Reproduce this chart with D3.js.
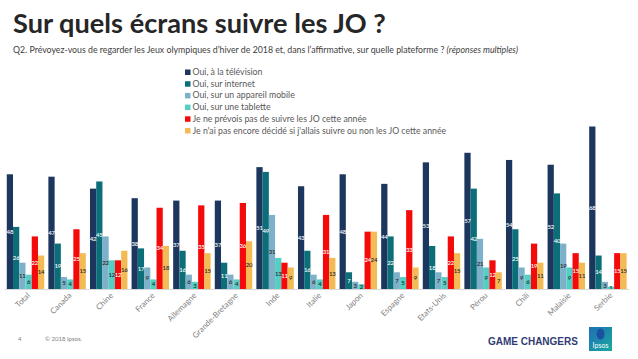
<!DOCTYPE html>
<html><head><meta charset="utf-8">
<script src="https://cdn.jsdelivr.net/npm/d3@7"></script>
<style>body{margin:0;background:#fff} svg{display:block}</style>
</head><body><svg id="c" width="638" height="359"></svg>
<script>
const categories = ["Total","Canada","Chine","France","Allemagne","Grande-Bretagne","Inde","Italie","Japon","Espagne","Etats-Unis","Pérou","Chili","Malaisie","Serbie"];
const seriesNames = ["Oui, à la télévision","Oui, sur internet","Oui, sur un appareil mobile","Oui, sur une tablette","Je ne prévois pas de suivre les JO cette année","Je n'ai pas encore décidé si j'allais suivre ou non les JO cette année"];
const tv        = [48,47,42,38,37,37,51,43,48,44,53,57,54,52,68];
const internet  = [26,19,45,17,16,11,49,16,7,22,18,42,25,40,14];
const mobile    = [11,5,22,9,6,6,31,6,3,7,7,21,9,19,3];
const tablet    = [6,4,12,4,3,4,13,4,2,5,5,9,6,9,1];
const notFollow = [22,25,12,34,35,36,11,31,24,33,22,12,19,15,15];
const undecided = [14,15,16,18,15,20,9,13,24,9,15,7,11,11,15];
const seriesValues = [tv, internet, mobile, tablet, notFollow, undecided];
const colors = ["#1d365e","#0b6e78","#7db1c9","#53cfc3","#f40a0a","#f4bb55"];
const labelColors = ["#fff","#fff","#262626","#262626","#fff","#262626"];

const svg = d3.select("#c");
const font = "Lato, 'Open Sans', sans-serif";

function fit(sel, w){ const l = sel.node().getComputedTextLength(); const fs = parseFloat(sel.attr("font-size")); sel.attr("font-size", fs*w/l); return fs*w/l; }

// Title
const title = svg.append("text").attr("x",13).attr("y",33).attr("font-family",font).attr("font-weight",700)
  .attr("font-size",26).attr("fill","#262626").text("Sur quels écrans suivre les JO ?");
fit(title, 373);

const sub = svg.append("text").attr("x",13).attr("y",53).attr("font-family",font).attr("font-size",7.5).attr("fill","#404040");
sub.append("tspan").text("Q2. Prévoyez-vous de regarder les Jeux olympiques d’hiver de 2018 et, dans l’affirmative, sur quelle plateforme ? ");
sub.append("tspan").attr("font-style","italic").text("(réponses multiples)");
fit(sub, 506);

// Legend
const leg = svg.append("g").attr("transform","translate(185,75)");
const legTexts = [];
seriesNames.forEach((n,i)=>{
  const g = leg.append("g").attr("transform",`translate(0,${i*11.7})`);
  g.append("rect").attr("x",0).attr("y",-5.5).attr("width",5.5).attr("height",5.5).attr("fill",colors[i]);
  legTexts.push(g.append("text").attr("x",7.5).attr("y",0).attr("font-family",font).attr("font-size",8).attr("fill","#595959").text(n));
});
const legFs = fit(legTexts[5], 254);
legTexts.forEach(t=>t.attr("font-size",legFs));

// Scales
const x0 = d3.scaleBand().domain(categories).range([4.7,628.7]).paddingInner(0.1).paddingOuter(0.05);
const x1 = d3.scaleBand().domain(d3.range(6)).range([0,x0.bandwidth()]);
const y = d3.scaleLinear().domain([0,68]).range([289,126.5]);

const groups = svg.append("g").selectAll("g").data(categories).join("g")
  .attr("transform",d=>`translate(${x0(d)},0)`);
groups.each(function(c,ci){
  const g = d3.select(this);
  seriesValues.forEach((vals,si)=>{
    const v = vals[ci];
    g.append("rect").attr("x",x1(si)).attr("y",y(v)).attr("width",x1.bandwidth()).attr("height",y(0)-y(v)).attr("fill",colors[si]);
  });
  seriesValues.forEach((vals,si)=>{
    const v = vals[ci];
    g.append("text").attr("x",x1(si)+x1.bandwidth()/2).attr("y",(y(v)+y(0))/2).attr("dy","0.35em")
      .attr("text-anchor","middle").attr("font-family",font).attr("font-size",6).attr("font-weight",600)
      .attr("letter-spacing",-0.2).attr("fill",labelColors[si]).text(v);
  });
});

// Axis
const xAxis = d3.axisBottom(x0).tickSize(0).tickSizeOuter(0);
const ax = svg.append("g").attr("transform","translate(0,289)").call(xAxis);
ax.select(".domain").attr("stroke","#d9d9d9").attr("stroke-width",1);
ax.selectAll("text").attr("font-family",font).attr("font-size",8).attr("fill","#7f7f7f")
  .attr("text-anchor","end").attr("transform","translate(3,5) rotate(-45)").attr("dy","0.35em").attr("y",0).attr("x",0);

// Footer
svg.append("text").attr("x",18).attr("y",341).attr("font-family",font).attr("font-size",6).attr("fill","#7f7f7f").text("4");
svg.append("text").attr("x",45).attr("y",341).attr("font-family",font).attr("font-size",6).attr("fill","#7f7f7f").text("© 2018 Ipsos.");
const gc = svg.append("text").attr("x",488).attr("y",345).attr("font-family","'Liberation Sans', Arial, sans-serif").attr("font-weight",700)
  .attr("font-size",11).attr("fill","#313b75").text("GAME CHANGERS");
fit(gc, 90);

const defs = svg.append("defs");
const lg = defs.append("linearGradient").attr("id","ipg").attr("x1","0").attr("y1","0").attr("x2","1").attr("y2","1");
lg.append("stop").attr("offset","0").attr("stop-color","#1f6fb6");
lg.append("stop").attr("offset","1").attr("stop-color","#19a9a0");
svg.append("rect").attr("x",589).attr("y",327).attr("width",23).attr("height",24).attr("fill","url(#ipg)");
svg.append("ellipse").attr("cx",600.5).attr("cy",334).attr("rx",4).attr("ry",5.5).attr("fill","#1b4fa0");
svg.append("text").attr("x",600.5).attr("y",348).attr("text-anchor","middle").attr("font-family",font).attr("font-size",7).attr("fill","#fff").text("Ipsos");
</script></body></html>
